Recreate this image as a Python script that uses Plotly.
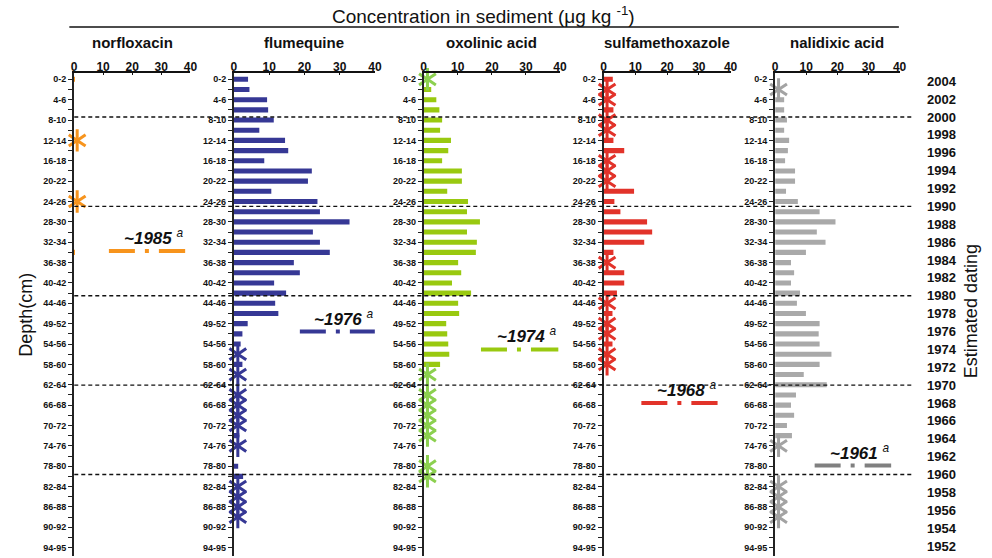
import plotly.graph_objects as go

# depth slices (cm), top to bottom
DEPTHS = [
    "0-2", "2-4", "4-6", "6-8", "8-10", "10-12", "12-14", "14-16", "16-18", "18-20",
    "20-22", "22-24", "24-26", "26-28", "28-30", "30-32", "32-34", "34-36", "36-38",
    "38-40", "40-42", "42-44", "44-46", "46-49", "49-52", "52-54", "54-56", "56-58",
    "58-60", "60-62", "62-64", "64-66", "66-68", "68-70", "70-72", "72-74", "74-76",
    "76-78", "78-80", "80-82", "82-84", "84-86", "86-88", "88-90", "90-92", "92-94",
    "94-95",
]

YEARS = [2004, 2002, 2000, 1998, 1996, 1994, 1992, 1990, 1988, 1986, 1984, 1982,
         1980, 1978, 1976, 1974, 1972, 1970, 1968, 1966, 1964, 1962, 1960, 1958,
         1956, 1954, 1952]
DECADE_YEARS = [2000, 1990, 1980, 1970, 1960]

# concentrations (ug/kg), None = no bar
NORFLOXACIN = [
    0.3, None, None, None, None, None, None, None, None, None, None, None,
    None, None, None, None, None, 0.3, None, None, None, None, None, None,
    None, None, None, None, None, None, None, None, None, None, None, None,
    None, None, None, None, None, None, None, None, None, None, None,
]
FLUMEQUINE = [
    4.0, 4.4, 9.4, 9.7, 11.3, 7.2, 14.5, 15.4, 8.6, 22.1, 21.0, 10.6,
    23.7, 24.4, 32.8, 22.4, 24.4, 27.2, 17.0, 18.7, 11.4, 14.8, 11.7, 12.6,
    3.9, 2.4, 1.9, None, 2.4, None, None, None, None, None, None, 1.5,
    None, None, 1.2, 2.6, None, None, None, None, None, None, None,
]
OXOLINIC = [
    None, 2.2, 3.7, 4.6, 5.4, 4.8, 8.0, 7.2, 5.4, 11.2, 11.2, 6.9,
    13.0, 12.7, 16.5, 12.7, 15.6, 15.3, 10.1, 11.0, 8.3, 13.9, 10.1, 10.4,
    6.6, 6.9, 7.2, 7.5, 4.8, None, None, None, None, None, None, None,
    None, None, None, None, None, None, None, None, None, None, None,
]
SULFAMETHOXAZOLE = [
    2.9, None, None, 3.1, None, None, 3.1, 6.5, None, None, None, 9.6,
    3.4, 5.3, 13.7, 15.3, 12.8, 3.1, None, 6.5, 6.5, 4.2, None, 2.8,
    None, None, 2.8, None, None, None, None, None, None, None, None, None,
    None, None, None, None, None, None, None, None, None, None, None,
]
NALIDIXIC = [
    None, None, 2.9, 2.9, 3.8, 2.9, 4.5, 4.1, 3.2, 6.4, 6.4, 3.5,
    7.3, 14.3, 19.4, 13.4, 16.2, 9.9, 5.1, 6.1, 5.1, 8.0, 7.0, 9.9,
    14.3, 14.0, 14.3, 18.1, 14.3, 9.2, 16.6, 6.7, 5.1, 6.1, 3.8, 5.4,
    None, None, None, None, None, None, None, None, None, None, None,
]

# slices below detection (drawn as stars)
NORFLOXACIN_ND = ["12-14", "24-26"]
FLUMEQUINE_ND = ["56-58", "60-62", "64-66", "66-68", "68-70", "70-72", "74-76",
                 "82-84", "84-86", "86-88", "88-90"]
OXOLINIC_ND = ["0-2", "60-62", "64-66", "66-68", "68-70", "70-72", "72-74",
               "78-80", "80-82"]
SULFAMETHOXAZOLE_ND = ["2-4", "4-6", "8-10", "10-12", "16-18", "18-20", "20-22",
                       "36-38", "44-46", "49-52", "52-54", "56-58", "58-60"]
NALIDIXIC_ND = ["2-4", "74-76", "82-84", "84-86", "86-88", "88-90"]

NAMES = ["norfloxacin", "flumequine", "oxolinic acid", "sulfamethoxazole",
         "nalidixic acid"]
ONSET_YEARS = [1985, 1976, 1974, 1968, 1961]
ONSET_LABELS = ["~1985", "~1976", "~1974", "~1968", "~1961"]

# styling / layout
W, H = 992, 558
FONT = "Liberation Sans, Arial, Helvetica, sans-serif"
BAR_COLORS = ["#F7941D", "#363895", "#99C910", "#E2332A", "#A9A9A9"]
STAR_COLORS = ["#F7941D", "#363895", "#8CD04F", "#E2332A", "#A3A3A3"]
ONSET_COLORS = ["#F7941D", "#363895", "#99C910", "#E2332A", "#808080"]
X_DOMAINS = [(71.7, 189.3), (233.3, 375.7), (425.0, 562.7), (606.7, 735.0), (780.0, 905.7)]
ONSET_SPAN = [(12.0, 38.2), (18.7, 40.0), (16.8, 39.5), (11.9, 35.9), (12.7, 37.3)]
Y_TOP, Y_BOT = 72.7, 555.8
ND_X = 1.1

values = [NORFLOXACIN, FLUMEQUINE, OXOLINIC, SULFAMETHOXAZOLE, NALIDIXIC]
nondetects = [NORFLOXACIN_ND, FLUMEQUINE_ND, OXOLINIC_ND, SULFAMETHOXAZOLE_ND, NALIDIXIC_ND]

row = {d: k for k, d in enumerate(DEPTHS)}
rows = [row[d] for d in DEPTHS]
label_rows = rows[::2]
label_text = DEPTHS[::2]

fig = go.Figure()
layout = {}
shapes = []
annotations = []
ydom = [1 - Y_BOT / H, 1 - Y_TOP / H]

for i in range(5):
    n = i + 1
    xa, ya = f"x{n}", f"y{n}"
    fig.add_trace(go.Bar(
        x=values[i], y=rows, orientation="h", width=0.5,
        marker=dict(color=BAR_COLORS[i], line=dict(width=0)),
        customdata=DEPTHS, hovertemplate="%{customdata}: %{x}<extra></extra>",
        xaxis=xa, yaxis=ya,
    ))
    # six-armed star = y-up + y-down on top of each other
    for sym in ("y-up-open", "y-down-open"):
        fig.add_trace(go.Scatter(
            x=[ND_X] * len(nondetects[i]), y=[row[d] for d in nondetects[i]],
            mode="markers",
            marker=dict(symbol=sym, size=14, color=STAR_COLORS[i],
                        line=dict(width=3, color=STAR_COLORS[i])),
            cliponaxis=False, xaxis=xa, yaxis=ya, hoverinfo="skip",
        ))
    d0, d1 = X_DOMAINS[i]
    layout[f"xaxis{n}"] = dict(
        domain=[d0 / W, d1 / W], anchor=ya, side="top", range=[0, 40],
        tickvals=[0, 10, 20, 30, 40], showline=True, linewidth=1.5,
        linecolor="#111", ticks="inside", ticklen=3, tickcolor="#111",
        ticklabelstandoff=-5,
        tickfont=dict(size=12, family=FONT, color="#111", weight="bold"),
        showgrid=False, zeroline=False, fixedrange=True,
    )
    layout[f"yaxis{n}"] = dict(
        domain=ydom, anchor=xa, range=[46.8, -0.65], tickmode="array",
        tickvals=label_rows, ticktext=label_text, showline=True, linewidth=2,
        linecolor="#222", ticks="outside", ticklen=4, tickwidth=1.3,
        tickcolor="#222",
        minor=dict(ticks="outside", ticklen=4, tickwidth=1.3, tickcolor="#222",
                   tick0=0, dtick=1, showgrid=False),
        tickfont=dict(size=9, family=FONT, color="#111", weight="bold"),
        showgrid=False, zeroline=False, fixedrange=True,
    )
    # panel title
    annotations.append(dict(
        text=f"<b>{NAMES[i]}</b>", x=(d0 + d1) / 2 / W, y=1 - 42 / H,
        xref="paper", yref="paper", xanchor="center", yanchor="middle",
        showarrow=False, font=dict(size=15, family=FONT, color="#111"),
    ))
    # estimated onset marker
    s0, s1 = ONSET_SPAN[i]
    shapes.append(dict(
        type="line", xref=xa, yref="y6", x0=s0, x1=s1,
        y0=ONSET_YEARS[i], y1=ONSET_YEARS[i],
        line=dict(color=ONSET_COLORS[i], width=4,
                  dash="26px,10px,4px,10px,28px,60px"),
    ))
    annotations.append(dict(
        text=f"<b><i>{ONSET_LABELS[i]}</i></b> <sup><i>a</i></sup>",
        x=s1, y=ONSET_YEARS[i], xref=xa, yref="y6", xanchor="right",
        yanchor="bottom", yshift=1, showarrow=False,
        font=dict(size=17, family=FONT, color="#111"),
    ))

# year axis on the right
fig.add_trace(go.Scatter(x=[None], y=[None], xaxis="x", yaxis="y6",
                         showlegend=False, hoverinfo="skip"))
layout["yaxis6"] = dict(
    overlaying="y", anchor="free", position=0.94, side="right",
    range=[1950.91, 2004.95], tickmode="array", tickvals=YEARS,
    showline=False, ticks="", showgrid=False, zeroline=False,
    tickfont=dict(size=13, family=FONT, color="#111", weight="bold"),
    fixedrange=True,
)

for yr in DECADE_YEARS:
    shapes.append(dict(
        type="line", xref="paper", yref="y6", x0=72 / W, x1=918 / W,
        y0=yr, y1=yr, line=dict(color="#111", width=1.4, dash="4px,3px"),
    ))

shapes.append(dict(
    type="line", xref="paper", yref="paper", x0=67 / W, x1=905 / W,
    y0=1 - 27 / H, y1=1 - 27 / H, line=dict(color="#111", width=1.5),
))

annotations += [
    dict(text="Concentration in sediment (μg kg <sup>-1</sup>)",
         x=485 / W, y=1 - 15 / H, xref="paper", yref="paper",
         xanchor="center", yanchor="middle", showarrow=False,
         font=dict(size=19, family=FONT, color="#111")),
    dict(text="Depth(cm)", x=23 / W, y=1 - 315 / H, xref="paper", yref="paper",
         xanchor="center", yanchor="middle", textangle=-90, showarrow=False,
         font=dict(size=18, family=FONT, color="#111")),
    dict(text="Estimated dating", x=978 / W, y=1 - 311 / H, xref="paper",
         yref="paper", xanchor="center", yanchor="middle", textangle=-90,
         showarrow=False, font=dict(size=18, family=FONT, color="#111")),
]

fig.update_layout(
    width=W, height=H, autosize=False,
    margin=dict(l=0, r=0, t=0, b=0),
    plot_bgcolor="white", paper_bgcolor="white",
    showlegend=False, bargap=0.5,
    shapes=shapes, annotations=annotations,
    **layout,
)

# the page's default body margin would push the 992x558 figure off by 8px
fig.write_html("out.html", config={"displayModeBar": False},
               post_script="document.body.style.margin = '0';")
